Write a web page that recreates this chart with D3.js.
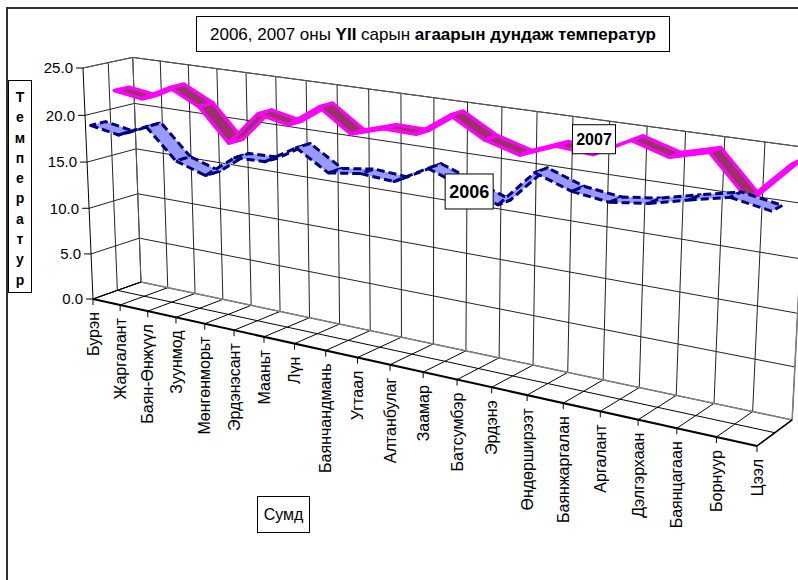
<!DOCTYPE html>
<html><head><meta charset="utf-8">
<script src="https://cdn.jsdelivr.net/npm/d3@7"></script>
<style>body{margin:0;background:#fff}svg{display:block}</style>
</head><body>
<svg id="c" width="798" height="580"></svg>
<script>
const categories = ["Бурэн","Жаргалант","Баян-Өнжүүл","Зуунмод","Мөнгөнморьт","Эрдэнэсант","Мааньт","Лүн","Баянчандмань","Угтаал","Алтанбулаг","Заамар","Батсумбэр","Эрдэнэ","Өндөрширээт","Баянжаргалан","Аргалант","Дэлгэрхаан","Баянцагаан","Борнуур","Цээл"];
const series2006 = [18.8,18.25,19.6,16.5,15.5,17.85,17.95,19.85,17.85,18.3,18.05,19.85,18.65,17.45,21.0,19.8,19.35,19.8,20.65,21.45,20.8];
const series2007 = [21.9,21.45,23.05,21.5,18.15,21.65,21.0,23.25,21.0,22.0,21.95,24.25,22.35,21.4,22.75,22.45,24.25,23.2,24.15,20.45,24.1];
const seriesNames = ["2006","2007"];
const valueTicks = [0,5,10,15,20,25];
const titleParts = [["2006, 2007 оны ",false],["YII",true],[" сарын ",false],["агаарын дундаж температур",true]];
const yTitle = "Температур";
const xTitle = "Сумд";

const FONT = "Arial, 'Liberation Sans', sans-serif";
const svg = d3.select("#c");
svg.append("rect").attr("width",798).attr("height",580).attr("fill","#fff");

// scales into 3D world coordinates
const xs = d3.scalePoint().domain(categories).range([0,20]);
const ys = d3.scaleLinear().domain([0,25]).range([0,25]);
const zs = d3.scaleOrdinal().domain(seriesNames).range([[0.1,0.4],[0.6,0.9]]);
const X1 = xs.range()[1], Y1 = ys.range()[1];

// perspective projection
const M = [[25.98,-0.5,52.23,93],[3.097,-9.3216,-8.54,299],[-0.009537,-0.0012,0.03,1]];
function proj(X,Y,Z){
  const w = M[2][0]*X+M[2][1]*Y+M[2][2]*Z+M[2][3];
  return [(M[0][0]*X+M[0][1]*Y+M[0][2]*Z+M[0][3])/w,(M[1][0]*X+M[1][1]*Y+M[1][2]*Z+M[1][3])/w];
}
const line = d3.line();
function seg(g,a,b,stroke,width){
  g.append("path").attr("d",line([proj(...a),proj(...b)])).attr("fill","none")
   .attr("stroke",stroke).attr("stroke-width",width);
}

// chart border
svg.append("rect").attr("x",7).attr("y",8).attr("width",900).attr("height",700)
  .attr("fill","none").attr("stroke","#333").attr("stroke-width",2);

const grid = svg.append("g");
categories.forEach(c=>seg(grid,[xs(c),0,1],[xs(c),Y1,1],"#222",1));
valueTicks.forEach(t=>{
  seg(grid,[0,ys(t),1],[X1,ys(t),1],"#222",1);
  seg(grid,[0,ys(t),0],[0,ys(t),1],"#222",1);
});
seg(grid,[0,0,0.5],[0,Y1,0.5],"#222",1);
categories.forEach(c=>seg(grid,[xs(c),0,0],[xs(c),0,1],"#000",1));
seg(grid,[0,0,0.5],[X1,0,0.5],"#000",1);
seg(grid,[0,0,1],[X1,0,1],"#808080",1.5);
seg(grid,[0,Y1,1],[X1,Y1,1],"#555",1);
seg(grid,[0,0,1],[0,Y1,1],"#555",1);
seg(grid,[X1,0,1],[X1,Y1,1],"#808080",1.5);
seg(grid,[0,Y1,0],[0,Y1,1],"#555",1);
seg(grid,[X1,0,0],[X1,0,1],"#000",1.5);
seg(grid,[0,0,0],[0,0,1],"#000",1);

// ribbons
function ribbon(vals,name,fill,stroke,width,dash){
  const [z1,z2] = zs(name);
  const g = svg.append("g");
  for(let i=0;i<vals.length-1;i++){
    const a = xs(categories[i]), b = xs(categories[i+1]);
    const pts = [proj(a,ys(vals[i]),z1),proj(b,ys(vals[i+1]),z1),proj(b,ys(vals[i+1]),z2),proj(a,ys(vals[i]),z2)];
    g.append("path").attr("d",line(pts)+"Z").attr("fill",fill).attr("stroke",stroke)
      .attr("stroke-width",width).attr("stroke-linejoin","round")
      .attr("stroke-dasharray",dash||null);
  }
}
ribbon(series2007,"2007","#993366","#FF00FF",3.5,null);
ribbon(series2006,"2006","#9999FF","#000080",3,"8,4");

// value axis
const ax = svg.append("g");
seg(ax,[0,0,0],[0,Y1,0],"#000",1);
valueTicks.forEach(t=>{
  const p = proj(0,ys(t),0);
  ax.append("line").attr("x1",p[0]-7).attr("y1",p[1]).attr("x2",p[0]).attr("y2",p[1]).attr("stroke","#000");
  ax.append("text").attr("x",p[0]-10).attr("y",p[1]).attr("dy","0.35em").attr("text-anchor","end")
    .attr("font-family",FONT).attr("font-size",15).text(d3.format(".1f")(t));
});
// category axis
seg(ax,[0,0,0],[X1,0,0],"#000",2);
categories.forEach(c=>{
  const p = proj(xs(c),0,0);
  ax.append("line").attr("x1",p[0]).attr("y1",p[1]).attr("x2",p[0]).attr("y2",p[1]+6).attr("stroke","#000");
  ax.append("text").attr("transform",`translate(${p[0]},${p[1]+13}) rotate(-90)`)
    .attr("dy","0.35em").attr("text-anchor","end").attr("font-family",FONT).attr("font-size",16).text(c);
});

// data labels
function dataLabel(name,vals,idx,dx,dy,w,h,fs){
  const [z1,z2] = zs(name);
  const p = proj(xs(categories[idx]),ys(vals[idx]),(z1+z2)/2);
  const cx = p[0]+dx, cy = p[1]+dy;
  svg.append("rect").attr("x",cx-w/2).attr("y",cy-h/2).attr("width",w).attr("height",h)
    .attr("fill","#fff").attr("stroke","#000").attr("stroke-width",1);
  svg.append("text").attr("x",cx).attr("y",cy).attr("dy","0.35em").attr("text-anchor","middle")
    .attr("font-family",FONT).attr("font-weight","bold").attr("font-size",fs).text(name);
}
dataLabel("2007",series2007,15,-5,-13,43,29,16);
dataLabel("2006",series2006,12,0,7.5,48,35,18);

// title
svg.append("rect").attr("x",196.5).attr("y",16.5).attr("width",473).attr("height",35)
  .attr("fill","#fff").attr("stroke","#000");
const tt = svg.append("text").attr("x",433).attr("y",34).attr("dy","0.35em").attr("text-anchor","middle")
  .attr("font-family",FONT).attr("font-size",17);
titleParts.forEach(([s,b])=>tt.append("tspan").attr("font-weight",b?"bold":"normal").text(s));

// y title
svg.append("rect").attr("x",8.5).attr("y",80.5).attr("width",23).attr("height",212)
  .attr("fill","#fff").attr("stroke","#000");
yTitle.split("").forEach((ch,k)=>{
  svg.append("text").attr("x",20).attr("y",97+k*20.3).attr("dy","0.35em").attr("text-anchor","middle")
    .attr("font-family",FONT).attr("font-weight","bold").attr("font-size",14).text(ch);
});

// x title
svg.append("rect").attr("x",257.5).attr("y",496.5).attr("width",52).attr("height",36)
  .attr("fill","#fff").attr("stroke","#000");
svg.append("text").attr("x",283.5).attr("y",514.5).attr("dy","0.35em").attr("text-anchor","middle")
  .attr("font-family",FONT).attr("font-size",16).text(xTitle);
</script>
</body></html>
